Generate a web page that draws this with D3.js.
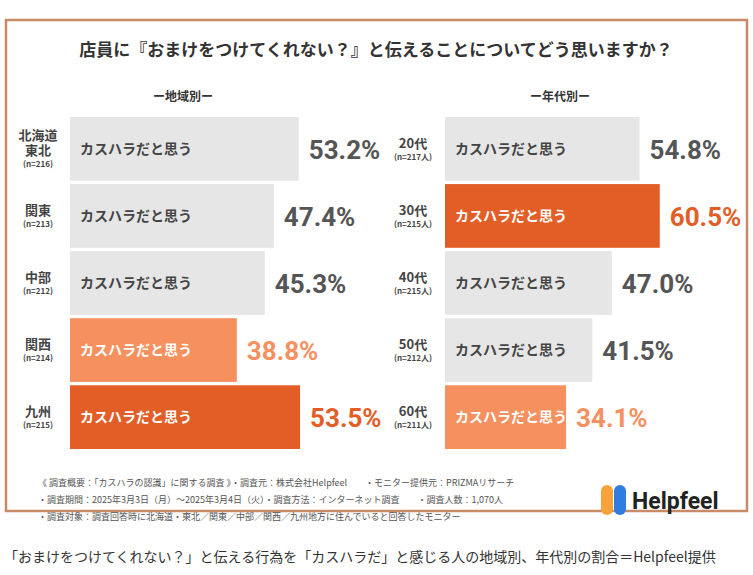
<!DOCTYPE html><html><head><meta charset="utf-8"><script src="https://cdn.jsdelivr.net/npm/d3@7"></script>
<style>body{margin:0;background:#fff;font-family:"Noto Sans CJK JP",sans-serif}</style></head><body><svg width="753" height="575"></svg>
<script>
const regions=["北海道\n東北","関東","中部","関西","九州"];
const regionN=["(n=216)","(n=213)","(n=212)","(n=214)","(n=215)"];
const regionVals=[53.2,47.4,45.3,38.8,53.5];
const regionTone=["grey","grey","grey","light","dark"];
const ages=["20代","30代","40代","50代","60代"];
const ageN=["(n=217人)","(n=215人)","(n=215人)","(n=212人)","(n=211人)"];
const ageVals=[54.8,60.5,47.0,41.5,34.1];
const ageTone=["grey","dark","grey","grey","light"];
const barLabel="カスハラだと思う";
const svg=d3.select("svg");
svg.append("rect").attr("x",6).attr("y",20).attr("width",741).attr("height",491).attr("fill","#fff").attr("stroke","#c98a67").attr("stroke-width",2.5);
svg.append("text").attr("x",376).attr("y",56).attr("text-anchor","middle").attr("font-size",17).attr("font-weight",700).attr("fill","#333").text("店員に『おまけをつけてくれない？』と伝えることについてどう思いますか？");
const fill={grey:"#e6e6e6",light:"#f6915f",dark:"#e35d27"};
const vcol={grey:"#555",light:"#f6915f",dark:"#e35d27"};
function panel(x0,scalePx,cats,ns,vals,tones,title,tx){
 svg.append("text").attr("x",tx).attr("y",101).attr("text-anchor","middle").attr("font-size",12).attr("font-weight",700).attr("fill","#333").text(title);
 const y=d3.scaleBand().domain(cats).range([117,449]).paddingInner(0.05);
 const x=d3.scaleLinear().domain([0,100]).range([x0,x0+scalePx*100]);
 cats.forEach((c,i)=>{
  const yy=y(c),h=y.bandwidth(),cy=yy+h/2;
  svg.append("rect").attr("x",x(0)).attr("y",yy).attr("width",x(vals[i])-x(0)).attr("height",h).attr("fill",fill[tones[i]]);
  svg.append("text").attr("x",x(0)+10).attr("y",cy+5).attr("font-size",14).attr("font-weight",700).attr("fill",tones[i]=="grey"?"#444":"#fff").text(barLabel);
  svg.append("text").attr("x",x(vals[i])+10).attr("y",cy+10).attr("font-size",26).attr("font-weight",700).attr("fill",vcol[tones[i]]).attr("font-family","Roboto,sans-serif").text(vals[i].toFixed(1)+"%");
  const lines=c.split("\n");
  const t=svg.append("text").attr("x",x0-32).attr("text-anchor","middle").attr("fill","#444").attr("font-weight",700);
  const lh=15,total=lines.length*lh+11;
  const startY=cy-total/2+12;
  lines.forEach((l,j)=>t.append("tspan").attr("x",x0-32).attr("y",startY+j*lh).attr("font-size",13).text(l));
  t.append("tspan").attr("x",x0-32).attr("y",startY+(lines.length-1)*lh+12).attr("font-size",8).text(ns[i]);
 });
}
panel(70,4.3,regions,regionN,regionVals,regionTone,"ー地域別ー",183);
panel(445,3.55,ages,ageN,ageVals,ageTone,"ー年代別ー",560);
const foot=["《 調査概要：「カスハラの認識」に関する調査 》・調査元：株式会社Helpfeel　　・モニター提供元：PRIZMAリサーチ","・調査期間：2025年3月3日（月）～2025年3月4日（火）・調査方法：インターネット調査　　・調査人数：1,070人","・調査対象：調査回答時に北海道・東北／関東／中部／関西／九州地方に住んでいると回答したモニター"];
foot.forEach((f,i)=>svg.append("text").attr("x",38).attr("y",486+i*17).attr("font-size",9).attr("fill","#555").text(f));
svg.append("rect").attr("x",601).attr("y",485).attr("width",12).attr("height",30).attr("rx",6).attr("fill","#f7a23b");
svg.append("rect").attr("x",614).attr("y",485).attr("width",12).attr("height",30).attr("rx",6).attr("fill","#2f7de1");
svg.append("text").attr("x",632).attr("y",509).attr("font-size",23).attr("font-weight",700).attr("fill","#222").attr("font-family","Roboto,sans-serif").text("Helpfeel");
svg.append("text").attr("x",4).attr("y",562).attr("font-size",14).attr("fill","#333").text("「おまけをつけてくれない？」と伝える行為を「カスハラだ」と感じる人の地域別、年代別の割合＝Helpfeel提供");
</script></body></html>
